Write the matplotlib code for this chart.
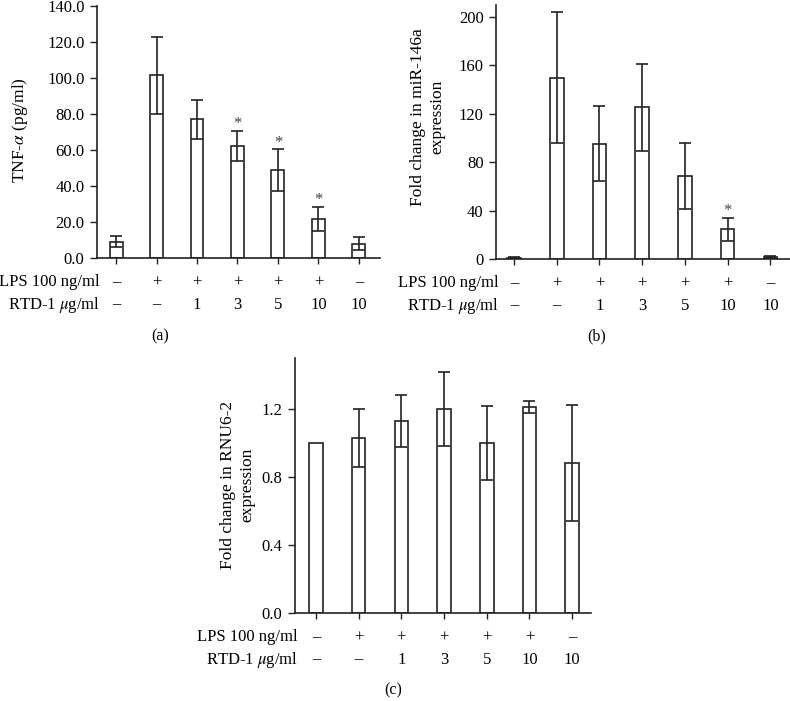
import numpy as np
import matplotlib
matplotlib.use("Agg")
import matplotlib.pyplot as plt
import matplotlib.transforms as mtransforms

plt.rcParams['font.family'] = ['Liberation Serif', 'DejaVu Serif']
plt.rcParams['mathtext.fontset'] = 'stix'
plt.rcParams['font.size'] = 12

# data
lps_row = ['–', '+', '+', '+', '+', '+', '–']
rtd_row = ['–', '–', '1', '3', '5', '10', '10']

tnf_mean = [9, 101.5, 77, 62.3, 48.7, 21.9, 8]
tnf_err = [3, 21.5, 11, 8.4, 11.7, 6.7, 3.8]
tnf_star = [False, False, False, True, True, True, False]

mir_mean = [1, 150, 95.2, 125.6, 68.5, 24.6, 1.5]
mir_err = [0.5, 54.5, 31, 36, 27.5, 9.7, 0.6]
mir_star = [False, False, False, False, False, True, False]

rnu_mean = [1.0, 1.03, 1.13, 1.2, 1.0, 1.213, 0.884]
rnu_err = [0, 0.17, 0.155, 0.22, 0.215, 0.036, 0.34]

W, H = 790, 701
fig = plt.figure(figsize=(W / 100, H / 100), dpi=100)


def make_ax(left, right, top, bottom):
    # pixel box -> figure fraction
    return fig.add_axes([left / W, 1 - bottom / H, (right - left) / W, (bottom - top) / H])


def draw_panel(ax, means, errs, stars, ylim, yticks, fmt, xlim):
    x = np.arange(len(means))
    ax.bar(x, means, width=0.32, color='white', edgecolor='#222222', linewidth=1.2, zorder=2)
    e = np.array(errs)
    mask = e > 0
    ax.errorbar(x[mask], np.array(means)[mask], yerr=e[mask], fmt='none',
                ecolor='#222222', elinewidth=1.2, capsize=4.5, capthick=1.2, zorder=3)
    for xi, m, er, s in zip(x, means, errs, stars):
        if s:
            ax.annotate('*', (xi, m + er), xytext=(0, -1), textcoords='offset points',
                        ha='center', va='bottom', fontsize=12, color='#444444')
    ax.set_xlim(*xlim)
    ax.set_ylim(*ylim)
    ax.set_yticks(yticks)
    ax.set_yticklabels([fmt.format(v) for v in yticks])
    ax.set_xticks(x)
    ax.set_xticklabels([])
    ax.tick_params(axis='x', length=4, width=1, direction='out', color='#222222')
    ax.tick_params(axis='y', length=5, width=1, direction='out', color='#222222', pad=4)
    for sp in ['top', 'right']:
        ax.spines[sp].set_visible(False)
    for sp in ['left', 'bottom']:
        ax.spines[sp].set_linewidth(1.2)
        ax.spines[sp].set_color('#222222')

    trans = mtransforms.blended_transform_factory(ax.transData, ax.transAxes)
    for xi, a, b in zip(x, lps_row, rtd_row):
        ax.annotate(a, (xi, 0), xycoords=trans, xytext=(0, -17.5), textcoords='offset points',
                    ha='center', va='center')
        ax.annotate(b, (xi, 0), xycoords=trans, xytext=(0, -33.5), textcoords='offset points',
                    ha='center', va='center')
    ax.annotate('LPS 100 ng/ml', (0, 0), xycoords='axes fraction', xytext=(2, -17.5),
                textcoords='offset points', ha='right', va='center')
    ax.annotate('RTD-1 $\\mu$g/ml', (0, 0), xycoords='axes fraction', xytext=(2, -33.5),
                textcoords='offset points', ha='right', va='center')


ax_a = make_ax(97, 380, 6, 258)
draw_panel(ax_a, tnf_mean, tnf_err, tnf_star, (0, 140), np.arange(0, 141, 20), '{:.1f}',
           (-0.47, 6.52))

ax_b = make_ax(496, 790, 5, 259)
draw_panel(ax_b, mir_mean, mir_err, mir_star, (0, 210), np.arange(0, 201, 40), '{:.0f}',
           (-0.42, 6.46))

ax_c = make_ax(295, 591, 358, 613)
draw_panel(ax_c, rnu_mean, rnu_err, [False] * 7, (0, 1.5), [0.0, 0.4, 0.8, 1.2], '{:.1f}',
           (-0.49, 6.44))

# y labels placed by hand, like the figure
fig.text(20 / W, 1 - 130 / H, 'TNF-$\\alpha$ (pg/ml)', rotation=90,
         ha='center', va='center', fontsize=12.5)
fig.text(428 / W, 1 - 117 / H, 'Fold change in miR-146a\nexpression', rotation=90,
         ha='center', va='center', fontsize=12.5, linespacing=1.3)
fig.text(238 / W, 1 - 485 / H, 'Fold change in RNU6-2\nexpression', rotation=90,
         ha='center', va='center', fontsize=12.5, linespacing=1.3)

fig.text(160 / W, 1 - 336 / H, '(a)', ha='center', va='center', fontsize=11.5)
fig.text(597 / W, 1 - 336 / H, '(b)', ha='center', va='center', fontsize=11.5)
fig.text(393 / W, 1 - 690 / H, '(c)', ha='center', va='center', fontsize=11.5)

fig.savefig('out.png', dpi=100)
